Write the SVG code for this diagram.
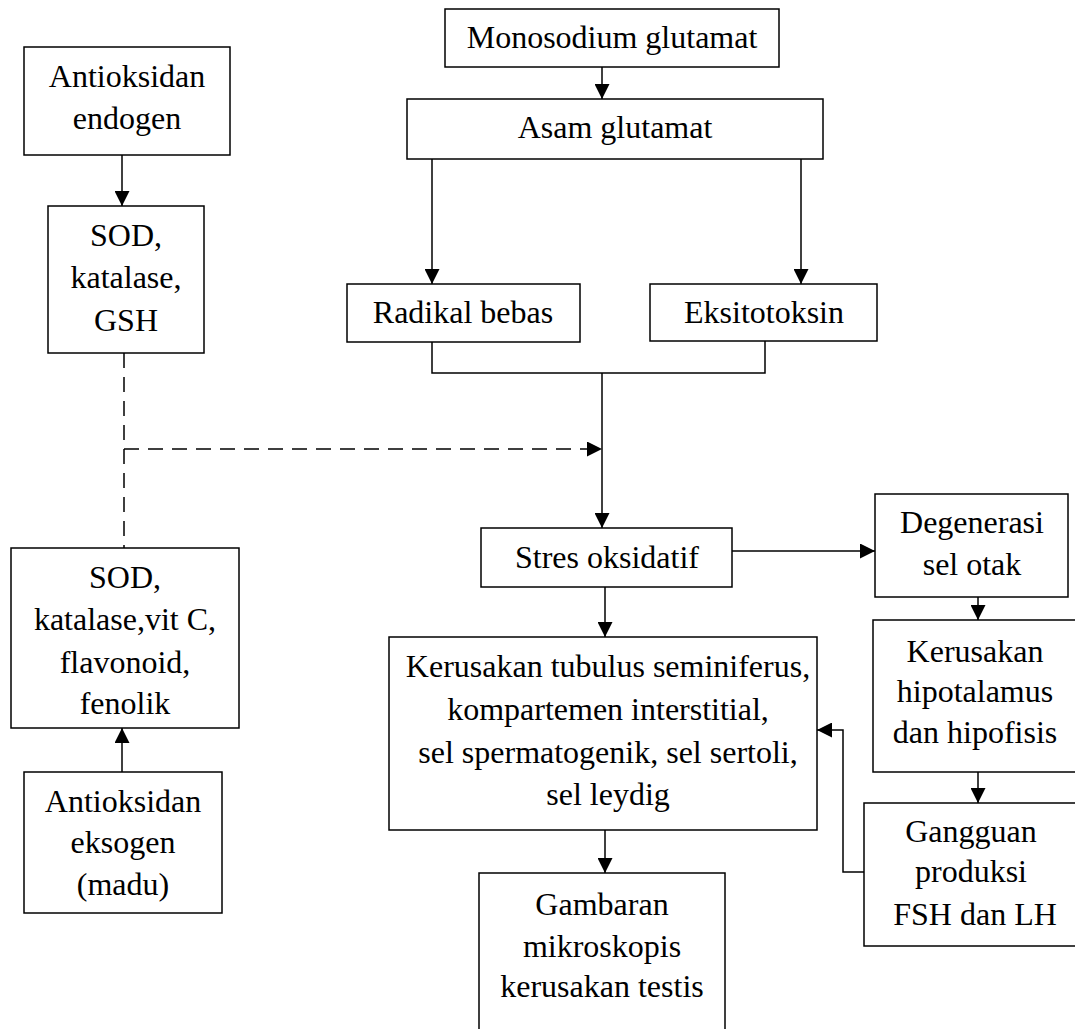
<svg xmlns="http://www.w3.org/2000/svg" width="1075" height="1029" viewBox="0 0 1075 1029">
<style>
.b{fill:#fff;stroke:#000;stroke-width:1.5}
text{font-family:"Liberation Serif","Times New Roman",serif;font-size:32px;fill:#000;text-anchor:middle}
.c{fill:none;stroke:#000;stroke-width:1.5}
.d{stroke-dasharray:15 9}
</style>
<defs>
<marker id="ah" markerUnits="userSpaceOnUse" markerWidth="15" markerHeight="15" viewBox="0 0 15 15" refX="15" refY="7.5" orient="auto">
<path d="M0,0 L15,7.5 L0,15 z" fill="#000"/>
</marker>
</defs>
<rect x="0" y="0" width="1075" height="1029" fill="#fff"/>
<g id="connectors">
<path class="c" d="M122,155 V206" marker-end="url(#ah)"/>
<path class="c" d="M602,67 V99" marker-end="url(#ah)"/>
<path class="c" d="M432,159 V284" marker-end="url(#ah)"/>
<path class="c" d="M801,159 V284" marker-end="url(#ah)"/>
<path class="c" d="M432,342 V373 H765 V341"/>
<path class="c" d="M602,373 V528" marker-end="url(#ah)"/>
<path class="c" d="M605,587 V637" marker-end="url(#ah)"/>
<path class="c" d="M605,830 V873" marker-end="url(#ah)"/>
<path class="c" d="M732,551 H875" marker-end="url(#ah)"/>
<path class="c" d="M978,597 V620" marker-end="url(#ah)"/>
<path class="c" d="M978,772 V803" marker-end="url(#ah)"/>
<path class="c" d="M864,872 H843 V730 H817" marker-end="url(#ah)"/>
<path class="c" d="M122,772 V728" marker-end="url(#ah)"/>
<path class="c d" d="M124,353 V548"/>
<path class="c d" d="M124,449 H602" marker-end="url(#ah)"/>
</g>
<g id="antioksidan-endogen">
<rect class="b" x="24" y="47" width="206" height="108"/>
<text x="127" y="87">Antioksidan</text>
<text x="127" y="129">endogen</text>
</g>
<g id="sod-endogen">
<rect class="b" x="48" y="206" width="156" height="147"/>
<text x="126" y="246">SOD,</text>
<text x="126" y="288">katalase,</text>
<text x="126" y="331">GSH</text>
</g>
<g id="sod-eksogen">
<rect class="b" x="11" y="548" width="228" height="180"/>
<text x="125" y="588">SOD,</text>
<text x="125" y="630">katalase,vit C,</text>
<text x="125" y="673">flavonoid,</text>
<text x="125" y="714">fenolik</text>
</g>
<g id="antioksidan-eksogen">
<rect class="b" x="24" y="772" width="198" height="141"/>
<text x="123" y="812">Antioksidan</text>
<text x="123" y="853">eksogen</text>
<text x="123" y="895">(madu)</text>
</g>
<g id="monosodium">
<rect class="b" x="445" y="9" width="334" height="58"/>
<text x="612" y="48">Monosodium glutamat</text>
</g>
<g id="asam-glutamat">
<rect class="b" x="407" y="99" width="416" height="60"/>
<text x="615" y="138">Asam glutamat</text>
</g>
<g id="radikal-bebas">
<rect class="b" x="347" y="284" width="233" height="58"/>
<text x="463" y="323">Radikal bebas</text>
</g>
<g id="eksitotoksin">
<rect class="b" x="650" y="284" width="227" height="57"/>
<text x="764" y="323">Eksitotoksin</text>
</g>
<g id="stres-oksidatif">
<rect class="b" x="481" y="528" width="251" height="59"/>
<text x="607" y="568">Stres oksidatif</text>
</g>
<g id="kerusakan-testis">
<rect class="b" x="389" y="637" width="428" height="193"/>
<text x="608" y="677">Kerusakan tubulus seminiferus,</text>
<text x="608" y="720">kompartemen interstitial,</text>
<text x="608" y="763">sel spermatogenik, sel sertoli,</text>
<text x="608" y="805">sel leydig</text>
</g>
<g id="gambaran">
<rect class="b" x="479" y="873" width="246" height="170"/>
<text x="602" y="915">Gambaran</text>
<text x="602" y="957">mikroskopis</text>
<text x="602" y="997">kerusakan testis</text>
</g>
<g id="degenerasi">
<rect class="b" x="875" y="494" width="193" height="103"/>
<text x="972" y="533">Degenerasi</text>
<text x="972" y="575">sel otak</text>
</g>
<g id="hipotalamus">
<rect class="b" x="873" y="620" width="210" height="152"/>
<text x="975" y="662">Kerusakan</text>
<text x="975" y="702">hipotalamus</text>
<text x="975" y="743">dan hipofisis</text>
</g>
<g id="gangguan">
<rect class="b" x="864" y="803" width="220" height="143"/>
<text x="971" y="842">Gangguan</text>
<text x="971" y="882">produksi</text>
<text x="975" y="925">FSH dan LH</text>
</g>
</svg>
